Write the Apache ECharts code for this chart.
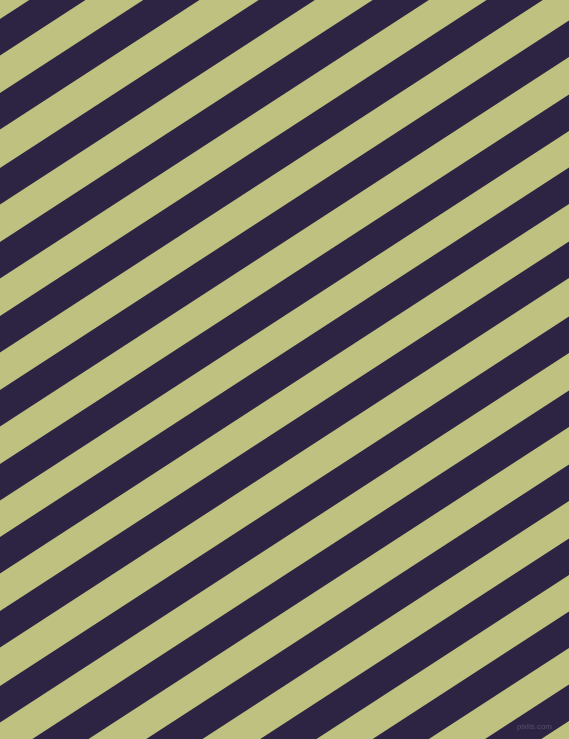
<!DOCTYPE html>
<html>
<head>
<meta charset="utf-8">
<style>
  html, body { margin: 0; padding: 0; width: 569px; height: 739px; overflow: hidden; background: #BEC17F; }
  #chart { width: 569px; height: 739px; }
</style>
<script src="https://cdn.jsdelivr.net/npm/echarts@6/dist/echarts.min.js"></script>
</head>
<body>
<div id="chart"></div>
<script>
// Dark stripes: y where each dark stripe's upper edge meets the left edge (x = 0)
const darkStripeLeftEdgeY = [19, 93, 168, 242, 316, 390, 464, 537, 611, 686, 760, 834, 908, 981, 1054];
const stripeAngleDeg = 33;
const watermark = 'pixlis.com';

const W = 569, H = 739;
const slope = Math.tan(stripeAngleDeg * Math.PI / 180);
const stripeHeight = 36.5;

const chart = echarts.init(document.getElementById('chart'), null, { renderer: 'canvas' });
chart.setOption({
  backgroundColor: '#BEC17F',
  animation: false,
  grid: { left: 0, right: 0, top: 0, bottom: 0 },
  xAxis: { type: 'value', min: 0, max: W, show: false },
  yAxis: { type: 'value', min: 0, max: H, inverse: true, show: false },
  series: [{
    type: 'custom',
    clip: true,
    data: darkStripeLeftEdgeY.map(v => [v]),
    renderItem: function (params, api) {
      const b = api.value(0);
      const pts = [
        api.coord([0, b]),
        api.coord([W, b - W * slope]),
        api.coord([W, b - W * slope + stripeHeight]),
        api.coord([0, b + stripeHeight])
      ];
      return {
        type: 'polygon',
        shape: { points: pts },
        style: { fill: '#2D2443' }
      };
    }
  }],
  graphic: [{
    type: 'text',
    right: 17,
    bottom: 8,
    z: 100,
    style: {
      text: watermark,
      fill: '#57526C',
      font: '8px "Liberation Sans", sans-serif'
    }
  }]
});
</script>
</body>
</html>
